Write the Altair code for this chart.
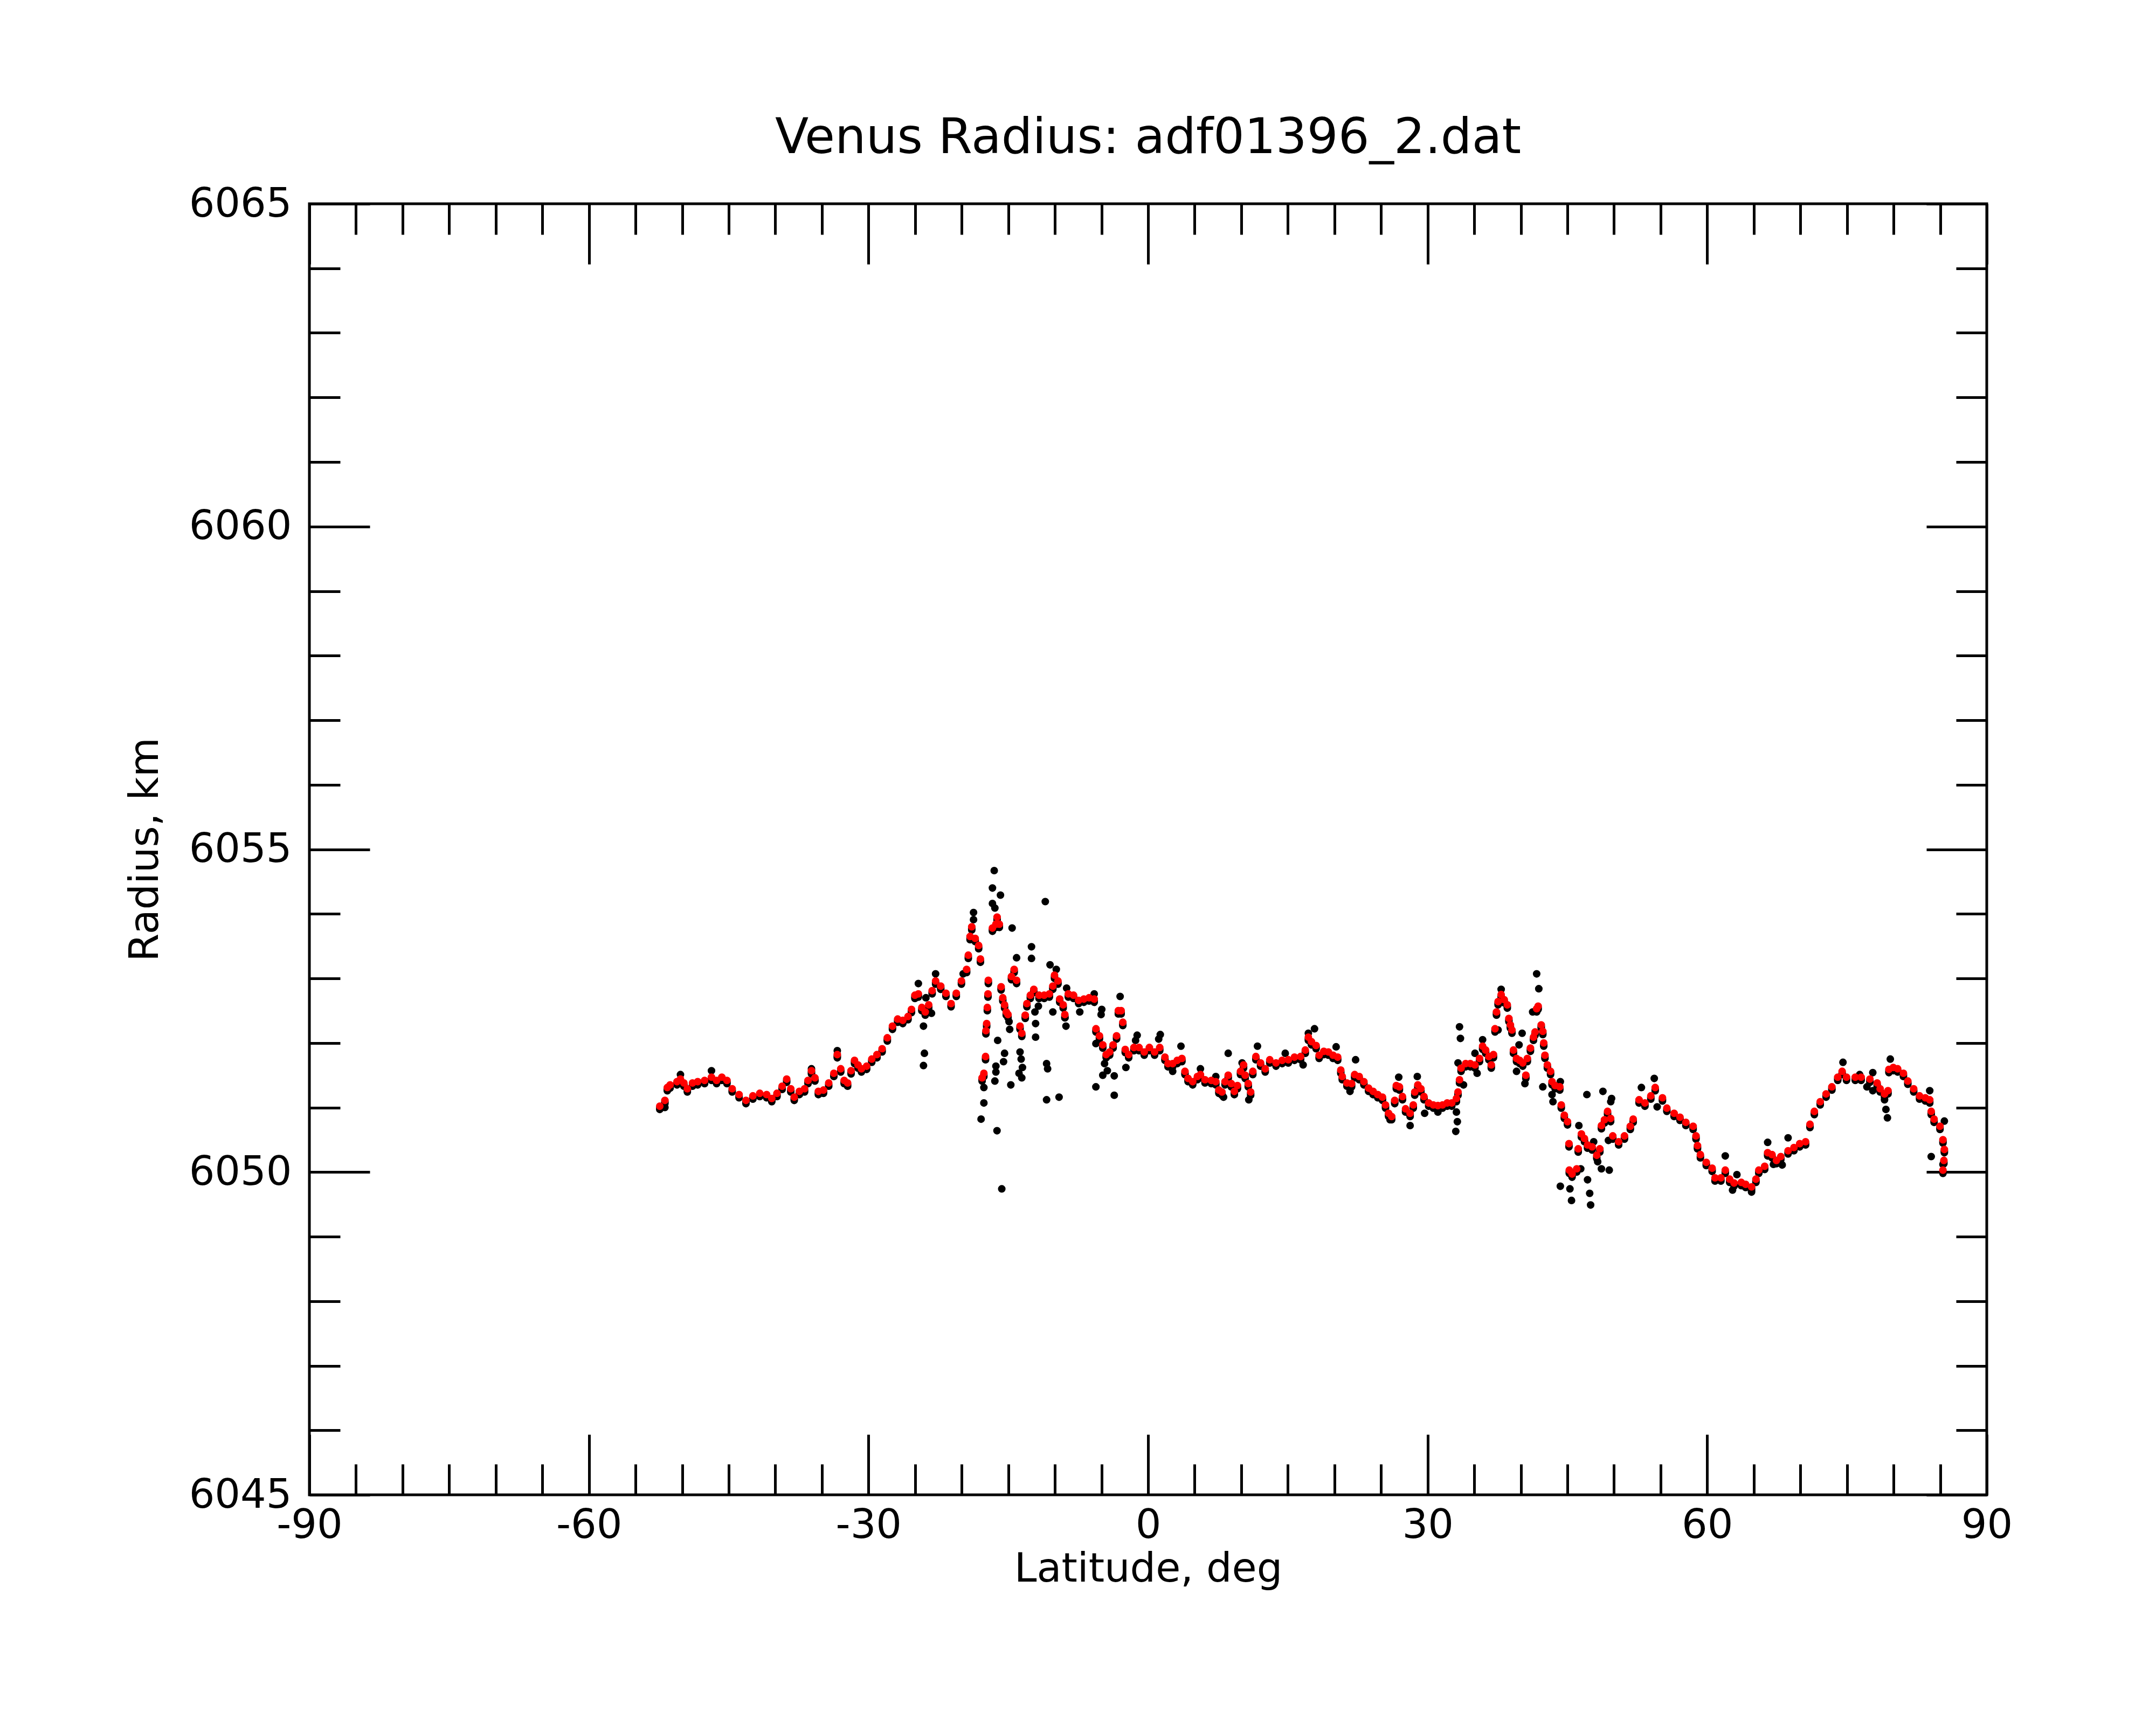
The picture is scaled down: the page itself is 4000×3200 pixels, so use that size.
import altair as alt
import pandas as pd

# ---------------- data ----------------
red_lat = [
    -52.40, -51.85, -51.59, -51.29, -50.55, -50.18, -49.81, -49.44, -48.89, -48.33,
    -47.59, -46.85, -46.30, -45.74, -45.19, -44.63, -43.89, -43.15, -42.41, -41.67,
    -40.93, -40.38, -39.82, -39.27, -38.78, -38.34, -37.97, -37.42, -36.86, -36.49,
    -36.12, -35.75, -35.38, -34.83, -34.27, -33.72, -33.35, -32.98, -32.61, -32.24,
    -31.87, -31.50, -31.13, -30.76, -30.20, -29.65, -29.09, -28.54, -27.98, -27.43,
    -26.87, -26.32, -25.76, -25.39, -25.02, -24.65, -24.28, -23.91, -23.54, -23.17,
    -22.80, -22.25, -21.69, -21.14, -20.58, -20.03, -19.47, -19.29, -19.10, -18.92,
    -18.55, -18.18, -17.99,
    -17.81, -17.62, -17.44, -17.40, -17.32, -17.25, -17.18, -17.14, -16.70, -16.33,
    -16.20, -15.96, -15.77, -15.59, -15.40, -15.22, -15.03, -14.66, -14.37, -14.11,
    -13.74, -13.55, -13.18, -13.00, -12.63, -12.26, -11.70, -11.15, -10.59, -10.22,
    -10.04, -9.67, -9.48, -9.11, -8.93, -8.56, -8.00, -7.45, -6.89, -6.33,
    -5.78, -5.59, -5.22, -4.86, -4.49, -4.12, -3.75, -3.38, -3.19, -2.89,
    -2.71, -2.45, -2.08, -1.52, -0.97, -0.41, 0.14, 0.70, 1.25,
    1.81, 2.14, 2.64, 3.13, 3.63, 3.96, 4.29, 4.79, 5.29, 5.62,
    6.11, 6.78, 7.27, 7.60, 7.93, 8.26, 8.60, 8.93, 9.26, 9.59,
    9.92, 10.25, 10.42, 10.75, 11.01, 11.24, 11.57, 12.07, 12.57, 13.06,
    13.73, 14.39, 15.05, 15.71, 16.37, 16.87, 17.20, 17.53, 18.03, 18.36,
    18.86, 19.35, 19.85, 20.35, 20.68, 20.84, 21.34, 21.84, 22.17, 22.66,
    23.16, 23.66, 24.15, 24.65, 25.15, 25.48, 25.81, 26.14, 26.47, 26.64,
    26.97, 27.30, 27.63, 28.12, 28.46, 28.62, 28.95, 29.28, 29.61, 30.11,
    30.61, 31.10, 31.60, 32.10, 32.59, 33.09, 33.26, 33.42, 33.59, 34.08,
    34.58, 35.08, 35.57, 35.90, 36.23, 36.57, 36.83, 37.06, 37.23, 37.39,
    37.56, 37.89, 38.22, 38.55, 38.72, 38.88, 39.05, 39.21, 39.54, 39.88,
    40.21, 40.54, 40.70, 41.03, 41.36, 41.53, 41.70, 41.86, 42.19, 42.36,
    42.46, 42.59, 42.85, 43.19, 43.35, 43.68, 44.18, 44.34, 44.67, 45.01,
    45.17, 45.20, 45.50, 46.00, 46.16, 46.50, 46.83, 47.16, 47.65, 48.15,
    48.48, 48.65, 48.98, 49.31, 49.64,
    49.87, 50.50, 51.12, 51.75, 52.06, 52.69, 53.32, 53.95, 54.42, 55.20,
    55.67, 56.45, 57.08, 57.71, 58.49, 58.80, 58.96, 59.27, 59.90, 60.53,
    60.84, 61.47, 61.94, 62.41, 62.88, 63.66, 64.13, 64.76, 65.23, 65.54,
    66.17, 66.49, 66.96, 67.43, 67.90, 68.68, 69.31, 69.93, 70.56, 71.03,
    71.50, 72.13, 72.76, 73.38, 74.01, 74.48, 74.95, 75.89, 76.52, 77.46,
    78.24, 78.56, 79.03, 79.40, 79.50, 79.97, 80.44, 81.06, 81.53, 82.16,
    82.79, 83.41, 83.88, 84.04, 84.35, 84.98, 85.30, 85.45, 85.40, 85.30,
]
red_r = [
    6051.02, 6051.11, 6051.31, 6051.35, 6051.40, 6051.44, 6051.38, 6051.29, 6051.38, 6051.40,
    6051.42, 6051.47, 6051.42, 6051.47, 6051.42, 6051.29, 6051.20, 6051.11, 6051.18, 6051.22,
    6051.20, 6051.14, 6051.22, 6051.33, 6051.44, 6051.29, 6051.16, 6051.25, 6051.29, 6051.42,
    6051.57, 6051.46, 6051.25, 6051.27, 6051.38, 6051.53, 6051.82, 6051.60, 6051.42, 6051.38,
    6051.57, 6051.73, 6051.66, 6051.60, 6051.64, 6051.75, 6051.82, 6051.91, 6052.08, 6052.26,
    6052.37, 6052.35, 6052.41, 6052.52, 6052.74, 6052.76, 6052.55, 6052.48, 6052.59, 6052.81,
    6052.96, 6052.88, 6052.77, 6052.61, 6052.77, 6052.96, 6053.14, 6053.36, 6053.65, 6053.80,
    6053.62, 6053.51, 6053.30,
    6051.46, 6051.53, 6051.79, 6052.19, 6052.30, 6052.55, 6052.76, 6052.97, 6053.78, 6053.84,
    6053.95, 6053.84, 6052.87, 6052.70, 6052.59, 6052.48, 6052.44, 6053.03, 6053.14, 6052.97,
    6052.26, 6052.15, 6052.43, 6052.61, 6052.74, 6052.83, 6052.74, 6052.74, 6052.76, 6052.88,
    6053.05, 6052.96, 6052.68, 6052.59, 6052.44, 6052.76, 6052.74, 6052.66, 6052.68, 6052.70,
    6052.68, 6052.22, 6052.11, 6051.97, 6051.82, 6051.86, 6051.97, 6052.11, 6052.50, 6052.50,
    6052.32, 6051.90, 6051.82, 6051.93, 6051.93, 6051.86, 6051.93, 6051.86, 6051.93,
    6051.78, 6051.68, 6051.68, 6051.73, 6051.76, 6051.56, 6051.45, 6051.40, 6051.48, 6051.51,
    6051.43, 6051.42, 6051.40, 6051.27, 6051.24, 6051.40, 6051.50, 6051.37, 6051.25, 6051.34,
    6051.56, 6051.66, 6051.50, 6051.37, 6051.24, 6051.56, 6051.79, 6051.69, 6051.60, 6051.74,
    6051.69, 6051.73, 6051.74, 6051.78, 6051.79, 6051.89, 6052.09, 6052.02, 6051.96, 6051.81,
    6051.87, 6051.86, 6051.81, 6051.78, 6051.58, 6051.48, 6051.38, 6051.37, 6051.51, 6051.48,
    6051.40, 6051.30, 6051.25, 6051.20, 6051.16, 6051.04, 6050.91, 6050.86, 6051.11, 6051.34,
    6051.32, 6051.17, 6050.98, 6050.91, 6051.04, 6051.24, 6051.35, 6051.29, 6051.17, 6051.07,
    6051.04, 6051.03, 6051.04, 6051.07, 6051.07, 6051.14, 6051.24, 6051.43, 6051.61, 6051.68,
    6051.68, 6051.66, 6051.76, 6051.95, 6051.89, 6051.79, 6051.66, 6051.82, 6052.22, 6052.48,
    6052.64, 6052.75, 6052.67, 6052.59, 6052.38, 6052.28, 6052.20, 6051.89, 6051.76, 6051.73,
    6051.69, 6051.50, 6051.76, 6051.92, 6052.09, 6052.17, 6052.53, 6052.57, 6052.28, 6052.18,
    6052.00, 6051.81, 6051.66, 6051.56, 6051.40, 6051.34, 6051.32, 6051.04, 6050.88, 6050.78,
    6050.44, 6050.03, 6049.97, 6050.05, 6050.36, 6050.59, 6050.52, 6050.42, 6050.39, 6050.26,
    6050.36, 6050.72, 6050.81, 6050.94, 6050.83,
    6050.56, 6050.47, 6050.56, 6050.71, 6050.82, 6051.12, 6051.07, 6051.18, 6051.31, 6051.15,
    6050.99, 6050.91, 6050.85, 6050.77, 6050.71, 6050.56, 6050.41, 6050.27, 6050.15, 6050.06,
    6049.91, 6049.91, 6050.03, 6049.89, 6049.83, 6049.84, 6049.81, 6049.77, 6049.89, 6050.03,
    6050.09, 6050.30, 6050.27, 6050.18, 6050.24, 6050.33, 6050.38, 6050.44, 6050.47, 6050.74,
    6050.94, 6051.09, 6051.21, 6051.32, 6051.47, 6051.56, 6051.47, 6051.47, 6051.47, 6051.44,
    6051.38, 6051.29, 6051.21, 6051.26, 6051.59, 6051.62, 6051.60, 6051.53, 6051.41, 6051.29,
    6051.18, 6051.15, 6051.12, 6050.94, 6050.82, 6050.71, 6050.50, 6050.35, 6050.18, 6050.03,
]

# raw points that stray from the smoothed (red) trace
blk_lat = [
    -51.85, -50.18, -46.85, -36.12, -33.35, -24.65, -24.10, -24.00, -24.10, -23.84,
    -23.24, -22.80, -19.84, -18.73, -18.73, -17.92, -17.62, -17.62, -16.70, -16.70,
    -16.51, -16.44, -16.44, -16.33, -16.33, -16.21, -16.14, -15.84, -15.70, -15.51,
    -15.40, -14.92, -14.85, -14.73, -14.59, -14.11, -13.85, -13.74, -13.62, -13.55,
    -13.48, -12.51, -12.51, -12.14, -12.07, -12.07, -11.77, -11.03, -10.89, -10.89,
    -10.78, -10.52, -10.22, -9.85, -9.55, -8.92, -8.81, -8.74, -7.33, -5.78,
    -5.60, -5.60, -5.04, -4.97, -4.86, -4.67, -4.37, -3.63, -3.63, -3.00,
    -2.38, -1.34, -1.17, 1.14, 1.31, 2.64, 3.53, 5.62, 7.27, 8.10,
    8.60, 10.09, 10.81, 11.74, 14.72, 16.64, 17.20, 17.86, 20.18, 21.67,
    22.27, 25.97, 26.90, 28.12, 28.89, 29.68, 31.10, 33.02, 33.09, 33.19,
    33.26, 33.42, 33.52, 33.85, 35.08, 35.31, 35.90, 37.56, 37.89, 39.54,
    39.81, 40.14, 40.44, 41.27, 41.70, 41.93, 42.36, 43.35, 43.45, 44.24,
    44.24, 45.27, 45.44, 46.23, 46.43, 47.09, 47.16, 47.39, 47.49, 47.82,
    48.25, 48.65, 48.81, 49.40, 49.49, 49.65, 49.74, 52.94, 54.32, 54.63,
    61.94, 62.72, 63.19, 64.76, 66.49, 67.11, 68.05, 68.68, 74.57, 76.36,
    77.14, 77.77, 77.77, 79.03, 79.18, 79.34, 79.65, 83.88, 84.04, 85.30,
    85.45,
]
blk_r = [
    6051.00, 6051.51, 6051.57, 6051.60, 6051.88, 6052.92, 6052.26, 6051.84, 6051.65, 6052.70,
    6052.46, 6053.07, 6053.07, 6054.02, 6053.91, 6050.82, 6051.31, 6051.07, 6054.40, 6054.16,
    6054.67, 6054.09, 6051.41, 6051.64, 6051.55, 6050.64, 6052.04, 6054.29, 6049.74, 6051.71,
    6051.84, 6052.33, 6052.21, 6051.35, 6053.78, 6053.32, 6051.53, 6051.86, 6051.75, 6051.46,
    6051.62, 6053.49, 6053.31, 6052.48, 6052.30, 6052.09, 6052.57, 6054.19, 6051.68, 6051.12,
    6051.60, 6053.21, 6052.48, 6053.14, 6051.16, 6052.39, 6052.26, 6052.85, 6052.48, 6052.76,
    6051.99, 6051.32, 6052.44, 6052.52, 6051.50, 6051.68, 6051.57, 6051.49, 6051.19, 6052.72,
    6051.62, 6052.04, 6052.12, 6052.06, 6052.13, 6051.56, 6051.95, 6051.60, 6051.48, 6051.16,
    6051.84, 6051.69, 6051.12, 6051.95, 6051.84, 6051.66, 6052.15, 6052.22, 6051.94, 6051.25,
    6051.74, 6050.81, 6051.47, 6050.72, 6051.48, 6050.91, 6050.93, 6050.63, 6050.93, 6050.78,
    6051.69, 6052.25, 6052.07, 6051.35, 6051.84, 6051.53, 6052.05, 6052.20, 6052.83, 6051.56,
    6051.97, 6052.15, 6051.37, 6052.48, 6053.07, 6052.84, 6051.32, 6051.20, 6051.09, 6051.40,
    6049.78, 6049.74, 6049.56, 6050.72, 6050.05, 6051.20, 6049.88, 6049.67, 6049.49, 6050.47,
    6050.16, 6050.05, 6051.25, 6050.49, 6050.03, 6051.09, 6051.14, 6051.31, 6051.45, 6051.01,
    6050.25, 6049.72, 6049.96, 6049.69, 6050.46, 6050.12, 6050.11, 6050.53, 6051.70, 6051.51,
    6051.32, 6051.54, 6051.26, 6051.12, 6050.97, 6050.84, 6051.75, 6051.26, 6050.24, 6050.12,
    6050.79,
]

x_major = [-90, -60, -30, 0, 30, 60, 90]
x_minor = [v for v in range(-85, 90, 5) if v % 30 != 0]
y_major = [6045, 6050, 6055, 6060, 6065]
y_minor = [v for v in range(6046, 6065) if v % 5 != 0]

red_df = pd.DataFrame({"lat": red_lat, "r": red_r})
blk_df = pd.DataFrame({"lat": blk_lat, "r": blk_r})

# ---------------- styling ----------------
FONT = "DejaVu Sans"
W, H = 3112, 2395
MAJ, MIN = 112, 57
TW = 5
DOT = 200

xscale = alt.Scale(domain=[-90, 90], nice=False, zero=False)
yscale = alt.Scale(domain=[6045, 6065], nice=False, zero=False)


def tick_axis(orient, values, size):
    return alt.Axis(orient=orient, values=values, tickSize=size, offset=-size,
                    labels=False, domain=False, grid=False, title=None,
                    ticks=True, tickColor="black", tickWidth=TW)


x_label_axis = alt.Axis(
    orient="bottom", values=x_major, tickSize=MAJ, offset=-MAJ,
    ticks=True, tickColor="black", tickWidth=TW,
    domain=False, grid=False,
    labelPadding=20, labelFont=FONT, labelFontSize=75, labelColor="black",
    labelExpr="'' + datum.value", labelFlush=False, labelOverlap=False,
    labelLimit=1000,
    title="Latitude, deg", titleFont=FONT, titleFontSize=75,
    titleFontWeight="normal", titleColor="black",
    titleBaseline="alphabetic", titleY=MAJ + 160,
)
y_label_axis = alt.Axis(
    orient="left", values=y_major, tickSize=MAJ, offset=-MAJ,
    ticks=True, tickColor="black", tickWidth=TW,
    domain=False, grid=False,
    labelPadding=33, labelFont=FONT, labelFontSize=75, labelColor="black",
    labelExpr="'' + datum.value", labelFlush=False, labelOverlap=False,
    labelLimit=1000,
    title="Radius, km", titleFont=FONT, titleFontSize=75,
    titleFontWeight="normal", titleColor="black",
    titleBaseline="alphabetic", titleAngle=270,
    titleX=-282 - MAJ, titleY=H / 2,
)


def layer(df, color, xaxis, yaxis, yoff=0):
    mark = alt.Chart(df).mark_circle(size=DOT, color=color, opacity=1)
    enc = dict(
        x=alt.X("lat:Q", scale=xscale, axis=xaxis),
        y=alt.Y("r:Q", scale=yscale, axis=yaxis),
    )
    if yoff:
        enc["yOffset"] = alt.value(yoff)
    return mark.encode(**enc)


shadow_lo = layer(red_df, "black", x_label_axis, y_label_axis, yoff=6)
shadow_mid = layer(red_df, "black", tick_axis("bottom", x_minor, MIN),
                   tick_axis("left", y_minor, MIN), yoff=3)
outliers = layer(blk_df, "black", tick_axis("top", x_major, MAJ),
                 tick_axis("right", y_major, MAJ))
smooth = layer(red_df, "#ff0000", tick_axis("top", x_minor, MIN),
               tick_axis("right", y_minor, MIN))

chart = (
    alt.layer(shadow_lo, shadow_mid, outliers, smooth)
    .resolve_axis(x="independent", y="independent")
    .properties(
        width=W, height=H,
        autosize=alt.AutoSizeParams(type="none"),
        padding={"left": 566, "top": 370, "right": 300, "bottom": 400},
        title=alt.TitleParams(
            text="Venus Radius: adf01396_2.dat", font=FONT, fontSize=91,
            fontWeight="normal", color="black", anchor="middle",
            frame="group", baseline="alphabetic", offset=-34,
        ),
        background="white",
    )
    .configure_view(stroke="black", strokeWidth=5)
)

chart.save("out.html", embed_options={"renderer": "svg", "actions": False})
